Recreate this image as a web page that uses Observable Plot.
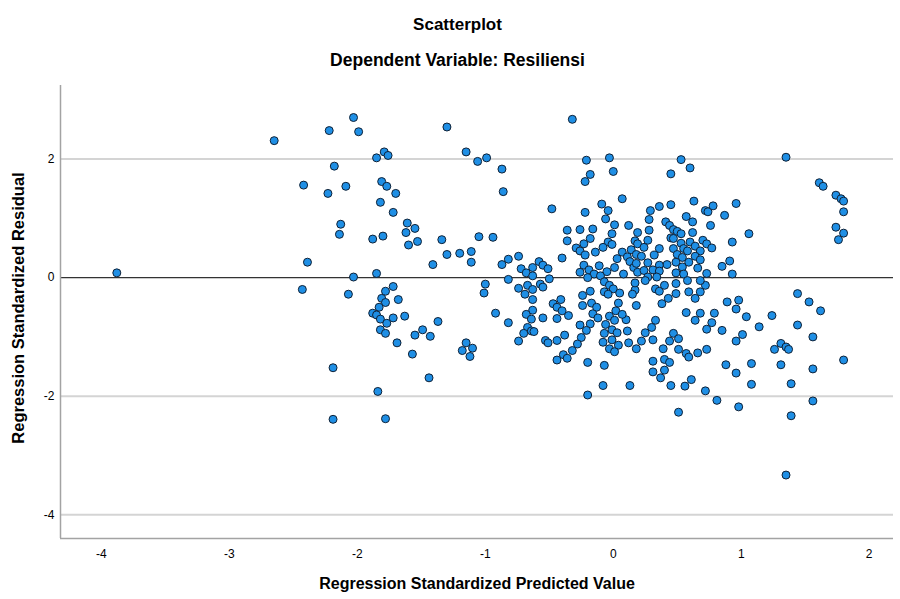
<!DOCTYPE html>
<html><head><meta charset="utf-8">
<script src="https://cdn.jsdelivr.net/npm/d3@7"></script>
<script src="https://cdn.jsdelivr.net/npm/@observablehq/plot@0.6"></script>
<style>html,body{margin:0;padding:0;background:#fff;overflow:hidden;} #chart{width:900px;height:599px;}</style>
</head><body><div id="chart"></div>
<script>
// Regression Standardized Predicted Value (x) and Regression Standardized Residual (y), one entry per case
const predicted = [
  -3.88, -2.65, -2.03, -2.22, -1.99, -1.30, -1.79, -1.85, -1.76, -1.15,
  -1.06, -0.99, -0.87, -2.18, -2.42, -2.23, -2.09, -1.81, -1.77, -1.70,
  -1.82, -1.72, -2.13, -2.14, -1.61, -1.55, -1.62, -1.60, -1.53, -1.88,
  -1.80, -1.34, -1.30, -1.20, -1.11, -1.11, -1.05, -0.94, -0.87, -2.39,
  -1.41, -2.03, -1.85, -2.43, -2.07, -1.78, -1.72, -1.81, -1.68, -1.00,
  -1.01, -1.78, -1.83, -1.88, -1.85, -1.82, -1.77, -1.72, -1.63, -1.82,
  -1.78, -1.69, -1.55, -1.49, -1.43, -1.37, -1.57, -1.44, -1.15, -1.18,
  -1.10, -1.12, -0.92, -2.19, -1.84, -2.19, -1.78, -0.32, -0.86, -0.21,
  -0.03, -0.18, -0.22, 0.00, 0.07, -0.48, -0.09, -0.04, -0.06, -0.22,
  0.01, 0.12, -0.36, -0.26, -0.16, -0.01, 0.19, -0.36, -0.18, -0.23,
  -0.04, -0.01, -0.29, -0.08, 0.17, 0.19, -0.26, -0.22, -0.14, 0.07,
  -0.74, -0.82, -0.40, -0.58, -0.55, -0.51, -0.63, -0.72, -0.68, -0.63,
  -0.23, -0.26, -0.19, -0.11, -0.05, 0.01, 0.03, 0.11, 0.13, 0.08,
  0.16, 0.18, -0.15, -0.20, -0.50, -0.82, -0.10, 0.19, -0.74, -0.67,
  -0.63, -0.57, -0.55, -0.69, -0.63, -0.47, -0.41, -0.44, -0.40, -0.35,
  -0.63, -0.68, -0.64, -0.55, -0.44, -0.82, -0.67, -0.64, -0.62, -0.70,
  -0.74, -0.53, -0.51, -0.44, -0.38, -0.24, -0.18, -0.24, -0.17, -0.13,
  -0.16, -0.12, -0.18, -0.26, -0.21, -0.25, -0.28, -0.32, -0.39, -0.44,
  -0.36, -0.20, -0.07, -0.08, -0.20, 0.13, -0.07, -0.03, 0.00, -0.07,
  -0.04, 0.05, 0.04, 0.02, -0.03, 0.01, 0.10, 0.07, -0.06, -0.01,
  0.03, -0.07, 0.11, -0.08, -0.01, 0.04, -0.03, 0.01, 0.12, 0.18,
  0.17, 0.18, 0.15, 0.53, 0.45, 0.60, 0.63, 0.45, 0.36, 0.29,
  0.72, 0.74, 0.78, 0.87, 0.96, 0.57, 0.28, 0.62, 0.76, 0.41,
  0.44, 0.47, 0.50, 0.53, 0.62, 0.28, 1.06, 0.45, 0.47, 0.27,
  0.53, 0.60, 0.70, 0.93, 0.24, 0.36, 0.47, 0.55, 0.64, 0.73,
  0.77, 0.58, 0.68, 0.14, 0.18, 0.22, 0.32, 0.50, 0.54, 0.64,
  0.68, 0.59, 0.49, 0.42, 0.27, 0.36, 0.31, 0.24, 0.36, 0.54,
  0.66, 0.73, 0.49, 0.55, 0.91, 0.85, 0.93, 0.27, 0.34, 0.17,
  0.25, 0.33, 0.36, 0.40, 0.49, 0.49, 0.58, 0.59, 0.68, 0.72,
  0.68, 0.38, 0.43, 0.64, 0.89, 0.98, 0.96, 0.57, 0.68, 0.79,
  0.64, 0.77, 1.04, 0.33, 0.30, 0.25, 0.73, 0.85, 1.14, 0.47,
  0.31, 0.22, 0.51, 0.44, 0.39, 0.51, 0.57, 0.59, 0.66, 0.73,
  0.96, 1.01, 0.31, 0.40, 0.44, 0.40, 0.31, 0.37, 0.61, 0.56,
  0.45, 0.88, 0.96, 1.08, 1.08, 0.72, 0.81, 0.98, 0.51, 1.35,
  1.61, 1.64, 1.74, 1.78, 1.80, 1.80, 1.74, 1.80, 1.76, 1.44,
  1.53, 1.62, 1.24, 1.44, 1.56, 1.31, 1.26, 1.35, 1.37, 1.80,
  1.31, 1.56, 1.39, 1.56, 1.39, 1.35
];
const residual = [
  0.08, 2.31, 2.70, 2.48, 2.46, 2.54, 2.12, 2.02, 2.06, 2.12,
  1.96, 2.02, 1.83, 1.88, 1.56, 1.42, 1.54, 1.62, 1.54, 1.42,
  1.27, 1.10, 0.90, 0.73, 0.92, 0.83, 0.76, 0.55, 0.61, 0.65,
  0.70, 0.64, 0.39, 0.41, 0.44, 0.26, 0.69, 0.68, 0.22, 0.26,
  0.22, 0.01, 0.07, -0.20, -0.28, -0.23, -0.15, -0.35, -0.37, -0.11,
  -0.26, -0.42, -0.50, -0.60, -0.63, -0.70, -0.77, -0.68, -0.65, -0.88,
  -0.94, -1.10, -0.97, -0.88, -0.99, -0.74, -1.29, -1.69, -1.10, -1.23,
  -1.19, -1.33, -0.60, -1.52, -1.92, -2.39, -2.38, 2.67, 1.45, 1.98,
  2.02, 1.74, 1.62, 1.79, 1.33, 1.16, 1.24, 1.13, 0.99, 1.10,
  0.89, 0.88, 0.80, 0.81, 0.82, 0.74, 0.76, 0.62, 0.66, 0.57,
  0.60, 0.56, 0.50, 0.51, 0.62, 0.57, 0.45, 0.38, 0.43, 0.43,
  0.36, 0.31, 0.33, 0.27, 0.21, 0.15, 0.17, 0.15, 0.08, 0.03,
  0.21, 0.09, 0.13, 0.20, 0.10, 0.17, 0.32, 0.35, 0.27, 0.06,
  0.17, 0.24, 0.06, 0.00, -0.02, -0.03, 0.03, 0.09, -0.18, -0.13,
  -0.20, -0.11, -0.16, -0.28, -0.37, -0.44, -0.37, -0.50, -0.56, -0.64,
  -0.55, -0.62, -0.70, -0.68, -0.69, -0.76, -0.84, -0.90, -0.91, -0.94,
  -1.07, -1.06, -1.10, -1.06, -0.97, -0.30, -0.23, -0.47, -0.43, -0.50,
  -0.61, -0.68, -0.78, -0.80, -0.89, -1.01, -1.12, -1.23, -1.30, -1.39,
  -1.36, -1.43, -1.48, -1.82, -1.98, -1.82, -0.07, -0.13, -0.19, -0.24,
  -0.28, -0.26, -0.43, -0.56, -0.65, -0.72, -0.71, -0.62, -0.79, -0.88,
  -0.93, -0.94, -0.90, -1.09, -1.05, -1.14, -1.20, -1.25, -1.10, -1.20,
  -0.21, -0.47, -0.28, 1.99, 1.75, 1.85, 1.29, 1.23, 1.20, 1.13,
  1.13, 1.11, 1.21, 1.05, 1.25, 1.03, 0.98, 0.94, 0.88, 0.94,
  0.88, 0.81, 0.78, 0.74, 0.76, 0.80, 0.74, 0.67, 0.66, 0.63,
  0.58, 0.60, 0.63, 0.60, 0.51, 0.49, 0.49, 0.49, 0.53, 0.57,
  0.50, 0.45, 0.45, 0.47, 0.39, 0.36, 0.38, 0.39, 0.34, 0.36,
  0.30, 0.26, 0.26, 0.22, 0.25, 0.21, 0.13, 0.12, 0.11, 0.18,
  0.16, 0.07, 0.08, 0.06, 0.28, 0.19, 0.06, 0.01, 0.01, -0.09,
  -0.05, -0.19, -0.23, -0.13, -0.10, -0.27, -0.05, -0.24, -0.24, -0.13,
  -0.05, -0.44, -0.35, -0.35, -0.41, -0.38, -0.53, -0.59, -0.60, -0.60,
  -0.72, -0.76, -0.66, -0.72, -0.84, -0.93, -0.87, -0.89, -0.83, -0.94,
  -1.05, -1.07, -1.03, -1.07, -1.20, -1.21, -1.28, -1.34, -1.27, -1.21,
  -1.07, -0.96, -1.41, -1.38, -1.43, -1.56, -1.59, -1.69, -1.72, -1.83,
  -1.82, -1.47, -1.61, -1.45, -1.80, -1.91, -2.07, -2.18, -2.27, 2.03,
  1.60, 1.54, 1.39, 1.33, 1.29, 1.11, 0.85, 0.75, 0.64, -0.27,
  -0.41, -0.56, -0.64, -0.80, -1.00, -1.11, -1.21, -1.17, -1.21, -1.39,
  -1.47, -1.54, -1.79, -2.08, -2.33, -3.33
];

const xTicks = [-4, -3, -2, -1, 0, 1, 2];
const yTicks = [-4, -2, 0, 2];
const gridValues = [-4, -2, 2];
const referenceValue = [0];
const xDomain = [-4.32, 2.19];
const yDomain = [-4.40, 3.24];

const titleText = ["Scatterplot"];
const subtitleText = ["Dependent Variable: Resiliensi"];
const xLabelText = ["Regression Standardized Predicted Value"];
const yLabelText = ["Regression Standardized Residual"];

if (predicted.length !== residual.length) throw new Error("length mismatch " + predicted.length + " vs " + residual.length);

const font = "'Liberation Sans', Arial, Helvetica, sans-serif";

const chart = Plot.plot({
  width: 900,
  height: 599,
  marginTop: 85,
  marginBottom: 61,
  marginLeft: 60,
  marginRight: 7,
  style: {fontFamily: font, fontSize: "12px", background: "#ffffff", color: "#000000"},
  x: {domain: xDomain, ticks: xTicks, tickSize: 0, tickPadding: 11, tickFormat: d => String(d), label: null},
  y: {domain: yDomain, ticks: yTicks, tickSize: 0, tickPadding: 6, tickFormat: d => String(d), label: null},
  marks: [
    Plot.ruleY(gridValues, {stroke: "#d4d4d4", strokeWidth: 2}),
    Plot.ruleY(referenceValue, {stroke: "#333333", strokeWidth: 1.2}),
    Plot.ruleX([xDomain[0]], {stroke: "#a3a3a3", strokeWidth: 1.5}),
    Plot.ruleY([yDomain[0]], {stroke: "#a3a3a3", strokeWidth: 1.5}),
    Plot.dot(predicted, {x: predicted, y: residual, r: 4, fill: "#1f8fe5", stroke: "#0f2136", strokeWidth: 1}),
    Plot.text(titleText, {frameAnchor: "top", textAnchor: "middle", dx: -19.5, dy: -68, fontSize: 17, fontWeight: "bold", fill: "#000"}),
    Plot.text(subtitleText, {frameAnchor: "top", textAnchor: "middle", dx: -19.5, dy: -32, fontSize: 17.5, fontWeight: "bold", fill: "#000"}),
    Plot.text(xLabelText, {frameAnchor: "bottom", textAnchor: "middle", dx: 0, dy: 50, fontSize: 16, fontWeight: "bold", fill: "#000"}),
    Plot.text(yLabelText, {frameAnchor: "left", textAnchor: "middle", dx: -42, dy: -4, rotate: -90, fontSize: 16.5, fontWeight: "bold", fill: "#000"})
  ]
});

document.getElementById("chart").appendChild(chart);
</script>
</body></html>
